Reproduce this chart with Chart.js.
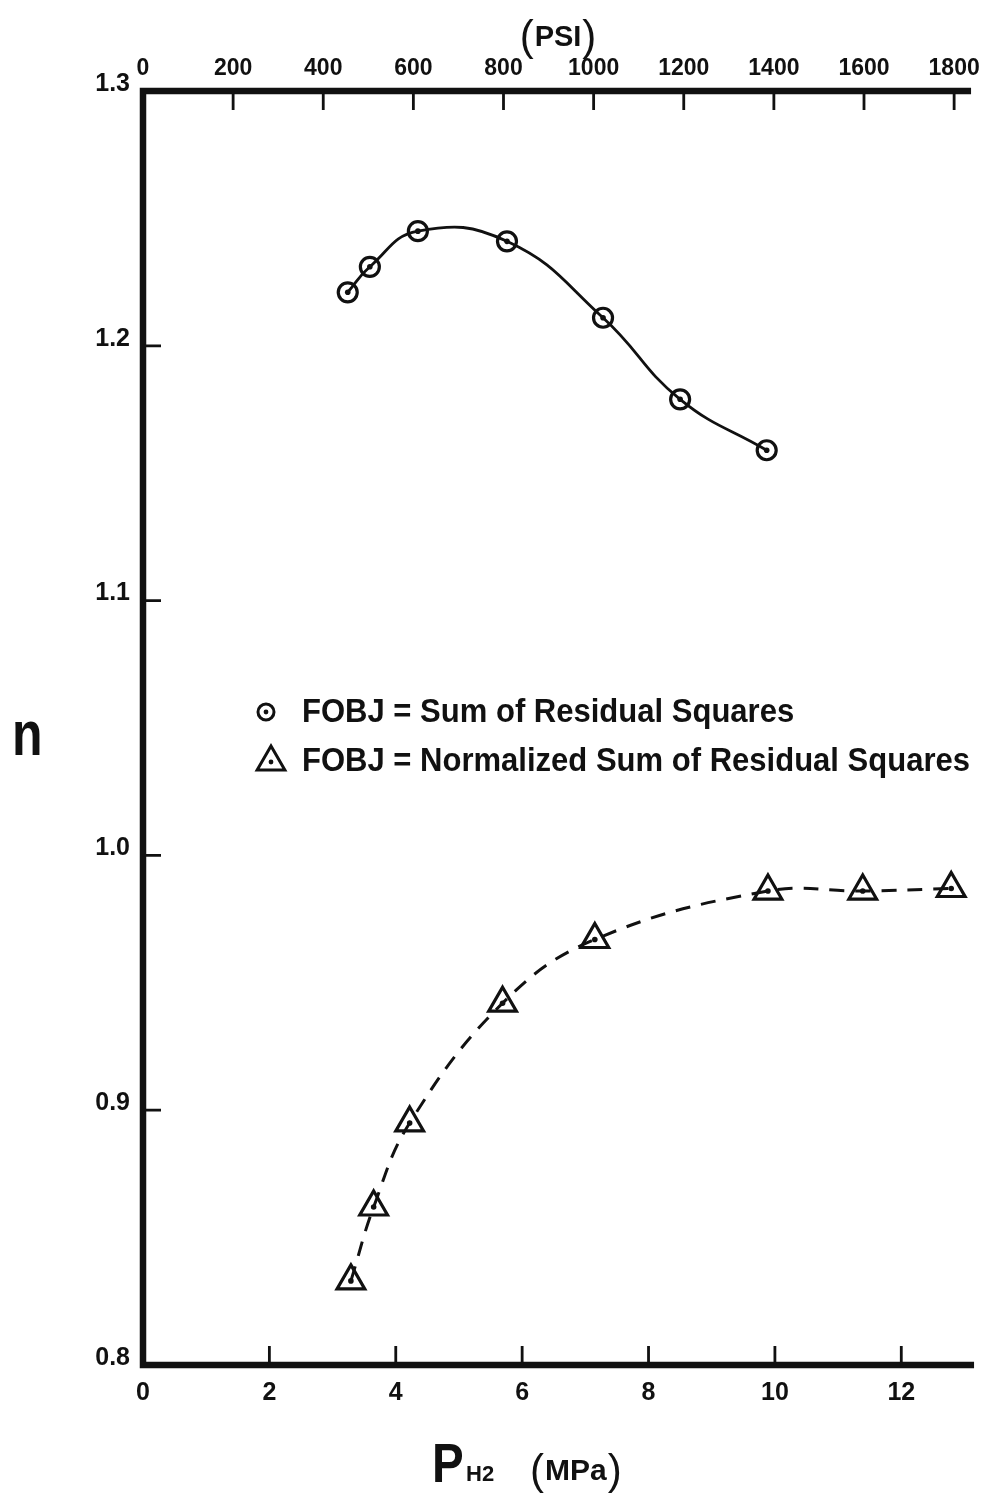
<!DOCTYPE html>
<html>
<head>
<meta charset="utf-8">
<script src="https://cdn.jsdelivr.net/npm/chart.js@4.4.1/dist/chart.umd.min.js"></script>
<style>
  html, body { margin: 0; padding: 0; background: #fff; }
  #wrap { width: 990px; height: 1495px; }
</style>
</head>
<body>
<div id="wrap"><canvas id="c" width="990" height="1495"></canvas></div>
<script>
// Hydrogen partial pressure (MPa) and fitted order n for each objective function
const sumSqP = [3.24, 3.59, 4.35, 5.76, 7.28, 8.50, 9.87];
const sumSqN = [1.221, 1.231, 1.245, 1.241, 1.211, 1.179, 1.159];
const normP  = [3.29, 3.65, 4.22, 5.69, 7.15, 9.89, 11.39, 12.79];
const normN  = [0.833, 0.862, 0.895, 0.942, 0.967, 0.986, 0.986, 0.987];

const seriesLabels = ['FOBJ = Sum of Residual Squares', 'FOBJ = Normalized Sum of Residual Squares'];

// Tick values
const mpaTicks = [0, 2, 4, 6, 8, 10, 12];
const psiTicks = [0, 200, 400, 600, 800, 1000, 1200, 1400, 1600, 1800];
const nTicks   = [0.8, 0.9, 1.0, 1.1, 1.2, 1.3];

const INK = '#111';
const FONT = '"Liberation Sans", Arial, Helvetica, sans-serif';
const NARROW = '"Liberation Sans Narrow", "Liberation Sans", Arial, sans-serif';

const toPoints = (xs, ys) => xs.map((x, i) => ({ x: x, y: ys[i] }));

function trianglePath(ctx, cx, cy, r) {
  ctx.beginPath();
  for (let k = 0; k < 3; k++) {
    const ang = k * 2 * Math.PI / 3;
    const px = cx + Math.sin(ang) * r, py = cy - Math.cos(ang) * r;
    if (k === 0) ctx.moveTo(px, py); else ctx.lineTo(px, py);
  }
  ctx.closePath();
}

// Axes frame, inward tick marks, centre dots in markers, titles and key
const framePlugin = {
  id: 'frame',
  afterDatasetsDraw(chart) {
    const ctx = chart.ctx;
    ctx.save();
    ctx.fillStyle = INK;
    chart.data.datasets.forEach((ds, i) => {
      chart.getDatasetMeta(i).data.forEach(pt => {
        ctx.beginPath();
        ctx.arc(pt.x, pt.y, 2.8, 0, Math.PI * 2);
        ctx.fill();
      });
    });
    ctx.restore();
  },
  afterDraw(chart) {
    const ctx = chart.ctx;
    const a = chart.chartArea;
    const sx = chart.scales.x, sx2 = chart.scales.x2, sy = chart.scales.y;
    ctx.save();
    ctx.strokeStyle = INK;
    ctx.fillStyle = INK;

    // heavy axis lines: left, bottom, top
    ctx.lineWidth = 6.5;
    ctx.lineCap = 'square';
    ctx.beginPath();
    ctx.moveTo(a.right - 3, a.top);
    ctx.lineTo(a.left, a.top);
    ctx.lineTo(a.left, a.bottom);
    ctx.lineTo(a.right, a.bottom);
    ctx.stroke();

    // inward tick marks
    ctx.lineWidth = 2.8;
    ctx.lineCap = 'butt';
    ctx.beginPath();
    nTicks.slice(1, -1).forEach(v => {
      const y = sy.getPixelForValue(v);
      ctx.moveTo(a.left, y); ctx.lineTo(a.left + 18, y);
    });
    mpaTicks.slice(1).forEach(v => {
      const x = sx.getPixelForValue(v);
      ctx.moveTo(x, a.bottom); ctx.lineTo(x, a.bottom - 19);
    });
    psiTicks.slice(1).forEach(v => {
      const x = sx2.getPixelForValue(v);
      ctx.moveTo(x, a.top); ctx.lineTo(x, a.top + 19);
    });
    ctx.stroke();

    // top axis title "(PSI)"
    ctx.textBaseline = 'alphabetic';
    ctx.textAlign = 'left';
    const psiCx = 558;
    ctx.font = 'bold 29px ' + FONT;
    const psiW = ctx.measureText('PSI').width;
    ctx.fillText('PSI', psiCx - psiW / 2, 46);
    ctx.font = '300 42px ' + FONT;
    ctx.textAlign = 'right';
    ctx.fillText('(', psiCx - psiW / 2 - 1, 50);
    ctx.textAlign = 'left';
    ctx.fillText(')', psiCx + psiW / 2 + 1, 50);

    // y axis title "n"
    ctx.save();
    ctx.translate(12, 755);
    ctx.scale(1, 1.25);
    ctx.font = 'bold 50px ' + FONT;
    ctx.textAlign = 'left';
    ctx.fillText('n', 0, 0);
    ctx.restore();

    // x axis title "P H2 (MPa)"
    ctx.save();
    ctx.translate(432, 1482);
    ctx.scale(0.88, 1.02);
    ctx.font = 'bold 54px ' + FONT;
    ctx.textAlign = 'left';
    ctx.fillText('P', 0, 0);
    ctx.restore();
    ctx.font = 'bold 22px ' + FONT;
    ctx.fillText('H2', 466, 1481);
    ctx.font = 'bold 30px ' + FONT;
    const mpaW = ctx.measureText('MPa').width;
    ctx.fillText('MPa', 545, 1480);
    ctx.font = '300 42px ' + FONT;
    ctx.textAlign = 'right';
    ctx.fillText('(', 544, 1484);
    ctx.textAlign = 'left';
    ctx.fillText(')', 546 + mpaW, 1484);

    // key
    ctx.lineWidth = 3;
    ctx.beginPath();
    ctx.arc(266, 712, 8, 0, Math.PI * 2);
    ctx.stroke();
    ctx.beginPath();
    ctx.arc(266, 712, 2.4, 0, Math.PI * 2);
    ctx.fill();
    trianglePath(ctx, 271, 762, 16);
    ctx.stroke();
    ctx.beginPath();
    ctx.arc(271, 762, 2.4, 0, Math.PI * 2);
    ctx.fill();

    ctx.font = 'bold 31px ' + NARROW;
    ctx.textAlign = 'left';
    const k = 668 / ctx.measureText(seriesLabels[1]).width;
    [[seriesLabels[0], 722], [seriesLabels[1], 771]].forEach(([t, y]) => {
      ctx.save();
      ctx.translate(302, y);
      ctx.scale(k, 1.08);
      ctx.fillText(t, 0, 0);
      ctx.restore();
    });

    ctx.restore();
  }
};

const tickFont = size => ({ family: FONT, weight: 'bold', size: size, lineHeight: 1.2 });
const plain = v => String(v);

new Chart(document.getElementById('c'), {
  type: 'scatter',
  data: {
    datasets: [
      {
        label: seriesLabels[0],
        data: toPoints(sumSqP, sumSqN),
        showLine: true,
        tension: 0.45,
        borderColor: INK,
        borderWidth: 2.8,
        pointStyle: 'circle',
        pointRadius: 9.5,
        pointBorderWidth: 3.2,
        pointBorderColor: INK,
        pointBackgroundColor: 'rgba(0,0,0,0)',
        xAxisID: 'x',
        yAxisID: 'y'
      },
      {
        label: seriesLabels[1],
        data: toPoints(normP, normN),
        showLine: true,
        tension: 0.4,
        borderColor: INK,
        borderWidth: 3,
        borderDash: [15, 11],
        pointStyle: 'triangle',
        pointRadius: 16,
        pointBorderWidth: 3.2,
        pointBorderColor: INK,
        pointBackgroundColor: 'rgba(0,0,0,0)',
        xAxisID: 'x',
        yAxisID: 'y'
      }
    ]
  },
  options: {
    responsive: false,
    animation: false,
    devicePixelRatio: 1,
    layout: { padding: { left: 0, right: 15, top: 0, bottom: 0 } },
    plugins: { legend: { display: false }, tooltip: { enabled: false } },
    scales: {
      x: {
        type: 'linear', position: 'bottom', min: 0, max: 13.1,
        afterBuildTicks: s => { s.ticks = mpaTicks.map(v => ({ value: v })); },
        afterFit: s => { s.height = 130; },
        grid: { display: false, drawTicks: false },
        border: { display: false },
        ticks: { font: tickFont(25), color: INK, padding: 13, maxRotation: 0, autoSkip: false, callback: plain }
      },
      x2: {
        type: 'linear', position: 'top', min: 0, max: 1837,
        afterBuildTicks: s => { s.ticks = psiTicks.map(v => ({ value: v })); },
        afterFit: s => { s.height = 91; },
        grid: { display: false, drawTicks: false },
        border: { display: false },
        ticks: { font: tickFont(23), color: INK, padding: 9, maxRotation: 0, autoSkip: false, callback: plain }
      },
      y: {
        type: 'linear', position: 'left', min: 0.8, max: 1.3,
        afterBuildTicks: s => { s.ticks = nTicks.map(v => ({ value: v })); },
        afterFit: s => { s.width = 143; },
        grid: { display: false, drawTicks: false },
        border: { display: false },
        ticks: { font: tickFont(25), color: INK, padding: 13, labelOffset: -7, autoSkip: false,
                 callback: v => v.toFixed(1) }
      }
    }
  },
  plugins: [framePlugin]
});
</script>
</body>
</html>
